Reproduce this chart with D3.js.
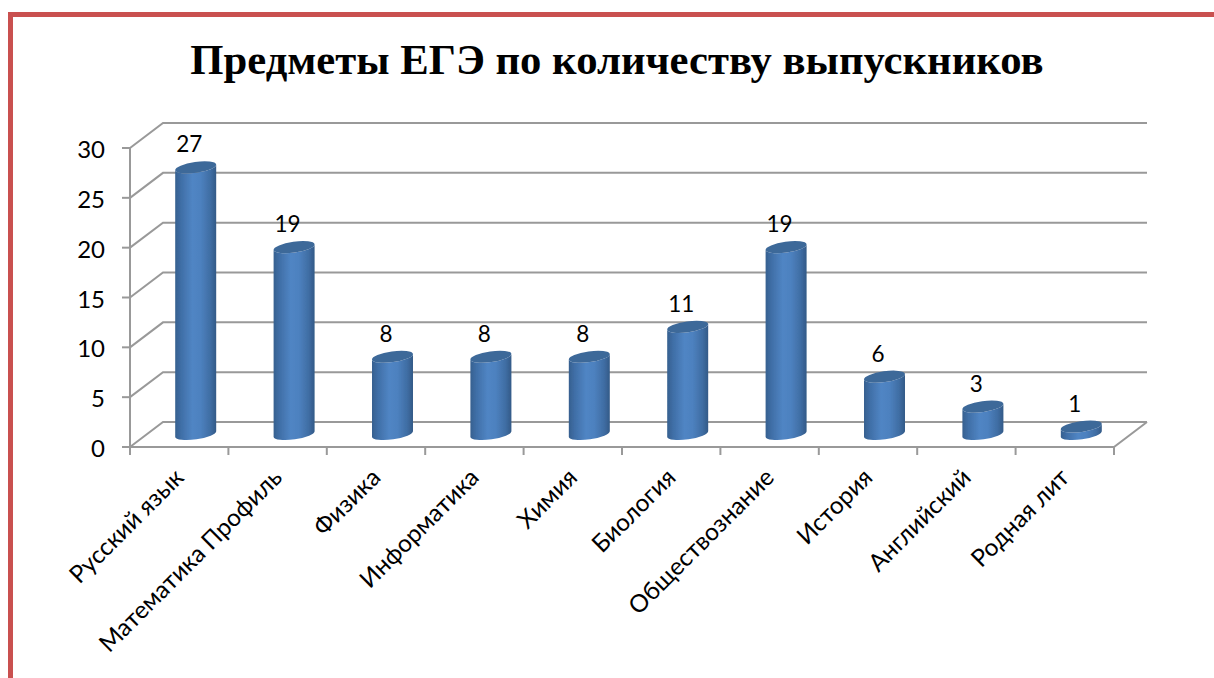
<!DOCTYPE html>
<html><head><meta charset="utf-8">
<script src="https://cdn.jsdelivr.net/npm/d3@7"></script>
<style>html,body{margin:0;padding:0;background:#fff}svg{display:block}</style>
</head><body><svg id="c" width="1214" height="678"></svg>
<script>
const titleText = "Предметы ЕГЭ по количеству выпускников";
const categories = ["Русский язык","Математика Профиль","Физика","Информатика","Химия","Биология","Обществознание","История","Английский","Родная лит"];
const values = [27,19,8,8,8,11,19,6,3,1];
const yTicks = [0,5,10,15,20,25,30];

const svg = d3.select("#c");
const defs = svg.append("defs");
const grad = defs.append("linearGradient").attr("id","cyl").attr("x1",0).attr("x2",1).attr("y1",0).attr("y2",0);
[[0,"#36608f"],[0.14,"#3f6ea6"],[0.42,"#5085c4"],[0.62,"#4d81bf"],[0.86,"#3f6da3"],[1,"#335a87"]]
  .forEach(([o,c])=>grad.append("stop").attr("offset",o).attr("stop-color",c));
const soft = defs.append("filter").attr("id","soft");
soft.append("feGaussianBlur").attr("stdDeviation",0.45);

svg.append("path").attr("d","M10.5,678V14.5H1214").attr("fill","none").attr("stroke","#c9504f").attr("stroke-width",5);

svg.append("text").attr("x",617).attr("y",74).attr("text-anchor","middle")
  .attr("font-family","Liberation Serif").attr("font-weight","bold").attr("font-size",42.7).attr("fill","#000").text(titleText);

const x = d3.scaleBand().domain(categories).range([130,1114]);
const y = d3.scaleLinear().domain([0,30]).range([447,148]);
const dx = 33, dy = -25, gray = "#999999";
const chart = svg.append("g").attr("filter","url(#soft)");

chart.selectAll(".g").data(yTicks).join("path").attr("fill","none").attr("stroke",gray).attr("stroke-width",2)
  .attr("d",d=>`M${x.range()[0]},${y(d)}L${x.range()[0]+dx},${y(d)+dy}H${x.range()[1]+dx}`);
chart.append("path").attr("fill","none").attr("stroke",gray).attr("stroke-width",2)
  .attr("d",`M${x.range()[0]},${y(0)}H${x.range()[1]}L${x.range()[1]+dx},${y(0)+dy}`);
chart.append("line").attr("x1",130).attr("x2",130).attr("y1",y(30)).attr("y2",y(0)+8).attr("stroke",gray).attr("stroke-width",2);
chart.selectAll(".yt").data(yTicks).join("line").attr("x1",122).attr("x2",130)
  .attr("y1",d=>y(d)).attr("y2",d=>y(d)).attr("stroke",gray).attr("stroke-width",2);
const xEdges = categories.map(c=>x(c)).concat([x.range()[1]]);
chart.selectAll(".xt").data(xEdges.slice(1)).join("line").attr("x1",d=>d).attr("x2",d=>d)
  .attr("y1",y(0)).attr("y2",y(0)+8).attr("stroke",gray).attr("stroke-width",2);

const rx = 20.7, ry = 5.4, rot = -8;
const ca = Math.cos(rot*Math.PI/180), sa = Math.sin(rot*Math.PI/180);
const floorLift = 13;
const base = y(0)-floorLift;
const yTop = d => base-(y(0)-y(d))+2.5;
const cx = c => x(c)+x.bandwidth()/2+dx/2;
const bars = chart.selectAll(".bar").data(categories.map((c,i)=>({c,v:values[i]}))).join("g");
bars.append("path").attr("fill","url(#cyl)").attr("d",d=>{
  const c=cx(d.c), t=yTop(d.v);
  const lx=c-rx*ca, rxp=c+rx*ca, ly=-rx*sa, ry2=rx*sa;
  return `M${lx},${t+ly}L${lx},${base+ly}A${rx},${ry},${rot},0,0,${rxp},${base+ry2}L${rxp},${t+ry2}A${rx},${ry},${rot},0,1,${lx},${t+ly}Z`;
});
bars.append("ellipse").attr("rx",rx).attr("ry",ry).attr("fill","#3e6999")
  .attr("transform",d=>`translate(${cx(d.c)},${yTop(d.v)}) rotate(${rot})`);

const font = "Lato";
svg.selectAll(".yl").data(yTicks).join("text").attr("x",105).attr("y",d=>y(d)+10).attr("text-anchor","end")
  .attr("font-family",font).attr("font-size",24).attr("fill","#000").text(d=>d);
svg.selectAll(".vl").data(categories.map((c,i)=>({c,v:values[i]}))).join("text")
  .attr("x",d=>cx(d.c)-6.5).attr("y",d=>yTop(d.v)-15).attr("text-anchor","middle")
  .attr("font-family",font).attr("font-size",22.5).attr("fill","#000").text(d=>d.v);
svg.selectAll(".cl").data(categories).join("text")
  .attr("transform",c=>`translate(${x(c)+x.bandwidth()/2+6},${y(0)+32}) rotate(-45)`)
  .attr("text-anchor","end").attr("font-family",font).attr("font-size",24.3).attr("fill","#000").text(c=>c);
</script></body></html>
